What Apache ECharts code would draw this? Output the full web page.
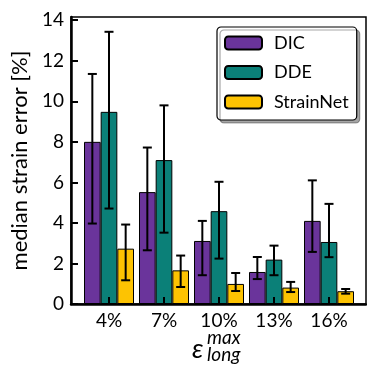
<!DOCTYPE html>
<html>
<head>
<meta charset="utf-8">
<script src="https://cdn.jsdelivr.net/npm/echarts@6/dist/echarts.min.js"></script>
<style>
  html, body { margin: 0; padding: 0; background: #fff; }
  #chart { width: 367px; height: 365px; }
</style>
</head>
<body>
<div id="chart"></div>
<script>
const categories = ['4%', '7%', '10%', '13%', '16%']
const names = ['DIC', 'DDE', 'StrainNet']
const colors = ['#6a349b', '#0b8078', '#fdc302']
// median values
const dic = [8.0, 5.52, 3.11, 1.58, 4.1]
const dde = [9.48, 7.1, 4.58, 2.19, 3.06]
const strainNet = [2.73, 1.66, 0.99, 0.81, 0.63]
// error bar ranges [low, high]
const dicErr = [[3.97, 11.35], [2.65, 7.72], [1.42, 4.1], [1.23, 2.32], [2.57, 6.1]]
const ddeErr = [[4.71, 13.43], [3.52, 9.8], [2.24, 6.03], [1.42, 2.88], [2.31, 4.94]]
const strainNetErr = [[1.17, 3.92], [0.84, 2.39], [0.64, 1.53], [0.59, 1.09], [0.51, 0.74]]

const yTicks = [0, 2, 4, 6, 8, 10, 12, 14]
const yMax = 14.16
const font = 'Lato'
const gapRatio = 5 / 55

const values = [dic, dde, strainNet]
const errors = [dicErr, ddeErr, strainNetErr]

const chart = echarts.init(document.getElementById('chart'))

const series = []
values.forEach((vals, i) => {
  series.push({
    type: 'bar',
    name: names[i],
    xAxisIndex: 1,
    yAxisIndex: 1,
    data: vals,
    barGap: 0,
    barCategoryGap: (gapRatio * 100) + '%',
    itemStyle: { color: colors[i], borderColor: '#000', borderWidth: 1 }
  })
})
errors.forEach((errs, i) => {
  series.push({
    type: 'custom',
    xAxisIndex: 1,
    yAxisIndex: 1,
    z: 5,
    silent: true,
    data: errs.map((e, k) => [k, e[0], e[1]]),
    renderItem: (params, api) => {
      const band = api.size([1, 0])[0]
      const bw = band * (1 - gapRatio) / 3
      const x = api.coord([api.value(0), 0])[0] + (i - 1) * bw
      const lo = api.coord([api.value(0), api.value(1)])[1]
      const hi = api.coord([api.value(0), api.value(2)])[1]
      const cap = 4.5
      const style = { stroke: '#000', lineWidth: 2 }
      return {
        type: 'group',
        children: [
          { type: 'line', shape: { x1: x, y1: lo, x2: x, y2: hi }, style },
          { type: 'line', shape: { x1: x - cap, y1: lo, x2: x + cap, y2: lo }, style },
          { type: 'line', shape: { x1: x - cap, y1: hi, x2: x + cap, y2: hi }, style }
        ]
      }
    }
  })
})

const option = {
  animation: false,
  backgroundColor: '#fff',
  textStyle: { fontFamily: font },
  grid: [
    { left: 71, top: 17, right: 1, bottom: 61, show: true, borderColor: '#000', borderWidth: 1.5 },
    { left: 81.5, top: 17, width: 275, bottom: 61 }
  ],
  legend: {
    data: names,
    orient: 'vertical',
    left: 217,
    top: 27,
    padding: [7, 8, 9, 7],
    itemGap: 11.5,
    itemWidth: 37,
    itemHeight: 13,
    borderColor: '#000',
    borderWidth: 1.2,
    borderRadius: 4,
    backgroundColor: '#fff',
    shadowColor: 'rgba(0,0,0,0.35)',
    shadowOffsetX: 3,
    shadowOffsetY: 3,
    shadowBlur: 0,
    textStyle: { fontFamily: font, fontSize: 18, color: '#000', padding: [0, 0, 0, 7], lineHeight: 18 }
  },
  xAxis: [
    {
      type: 'value', gridIndex: 0, min: 0, max: 1,
      axisLine: { show: true, onZero: false, lineStyle: { color: '#000', width: 2.5 } },
      axisTick: { show: false }, axisLabel: { show: false }, splitLine: { show: false }
    },
    {
      type: 'category', gridIndex: 1, data: categories, z: 10,
      axisLine: { show: false },
      axisTick: { show: true, inside: true, alignWithLabel: true, length: 7, lineStyle: { color: '#000', width: 2 } },
      axisLabel: { color: '#000', fontSize: 19, fontFamily: font, margin: 7 }
    }
  ],
  yAxis: [
    {
      type: 'value', gridIndex: 0, min: 0, max: yMax, interval: 2,
      name: 'median strain error [%]', nameLocation: 'middle', nameGap: 36,
      nameTextStyle: { fontSize: 22, color: '#000', fontFamily: font },
      axisLine: { show: true, lineStyle: { color: '#000', width: 2.5 } },
      axisTick: { show: true, inside: true, length: 7, lineStyle: { color: '#000', width: 2 } },
      axisLabel: {
        color: '#000', fontSize: 19, fontFamily: font, margin: 7, showMaxLabel: false,
        formatter: v => (yTicks.indexOf(v) >= 0 ? String(v) : '')
      },
      splitLine: { show: false }
    },
    { type: 'value', gridIndex: 1, min: 0, max: yMax, show: false }
  ],
  graphic: [
    {
      type: 'group', left: 192, top: 328,
      children: [
        { type: 'text', x: 0, y: 8, style: { text: 'ε', font: 'italic 27px ' + font, fill: '#000' } },
        { type: 'text', x: 15, y: 0, style: { text: 'max', font: 'italic 19px ' + font, fill: '#000' } },
        { type: 'text', x: 15, y: 17, style: { text: 'long', font: 'italic 19px ' + font, fill: '#000' } }
      ]
    }
  ],
  series: series
}

chart.setOption(option)
</script>
</body>
</html>
